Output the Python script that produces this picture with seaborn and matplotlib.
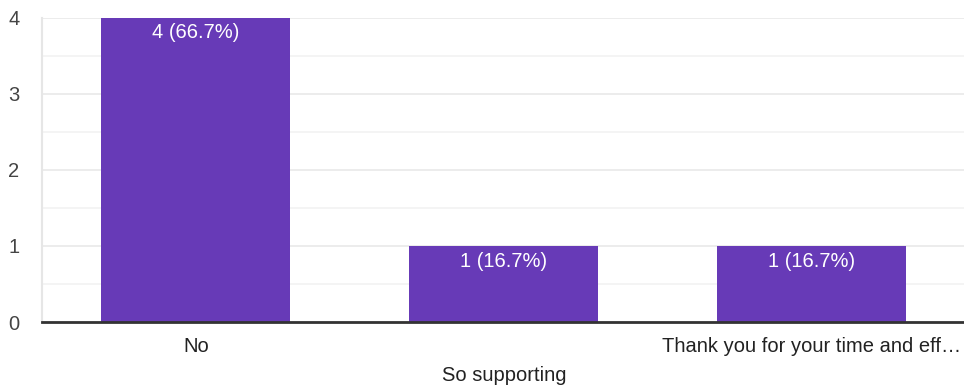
import matplotlib
matplotlib.use("Agg")
import matplotlib.pyplot as plt
import seaborn as sns
import pandas as pd
from matplotlib.ticker import MultipleLocator

categories = ["No", "So supporting", "Thank you for your time and eff…"]
counts = [4, 1, 1]
percent_labels = ["4 (66.7%)", "1 (16.7%)", "1 (16.7%)"]
y_ticks = [0, 1, 2, 3, 4]

sns.set_theme(style="white")
plt.rcParams["font.family"] = ["Liberation Sans", "DejaVu Sans"]

df = pd.DataFrame({"category": categories, "count": counts})

fig = plt.figure(figsize=(9.64, 3.88), dpi=100)
ax = fig.add_axes([0.0436, 0.170, 0.958, 0.784])

sns.barplot(data=df, x="category", y="count", color="#673ab7", width=0.614,
            saturation=1, ax=ax, zorder=3, edgecolor="none", linewidth=0)

ax.set_xlim(-0.5, 2.5)
ax.set_ylim(0, 4)
ax.set_yticks(y_ticks)
ax.yaxis.set_minor_locator(MultipleLocator(0.5))
ax.grid(axis="y", which="major", color="#ebebeb", linewidth=1.3, zorder=0)
ax.grid(axis="y", which="minor", color="#f2f2f2", linewidth=1.2, zorder=0)
ax.set_axisbelow(True)

for s in ["top", "right"]:
    ax.spines[s].set_visible(False)
ax.spines["left"].set_color("#e6e6e6")
ax.spines["left"].set_linewidth(1.5)
ax.spines["bottom"].set_color("#333333")
ax.spines["bottom"].set_linewidth(2)
ax.spines["bottom"].set_zorder(5)

ax.set_xlabel("")
ax.set_ylabel("")
ax.tick_params(axis="y", which="both", length=0, pad=24.5, labelsize=14.5, labelcolor="#444444")
ax.tick_params(axis="x", length=0, pad=11, labelsize=14.5, labelcolor="#222222")
for lbl in ax.get_yticklabels():
    lbl.set_horizontalalignment("left")

ax.set_xticks(range(len(categories)))
ax.set_xticklabels([c if i % 2 == 0 else "\n" + c for i, c in enumerate(categories)],
                   linespacing=1.65)

for i, (v, t) in enumerate(zip(counts, percent_labels)):
    ax.annotate(t, xy=(i, v), xytext=(0, -4), textcoords="offset points",
                ha="center", va="top", color="white", fontsize=14.5, zorder=6)

fig.savefig("out.png", dpi=100)
